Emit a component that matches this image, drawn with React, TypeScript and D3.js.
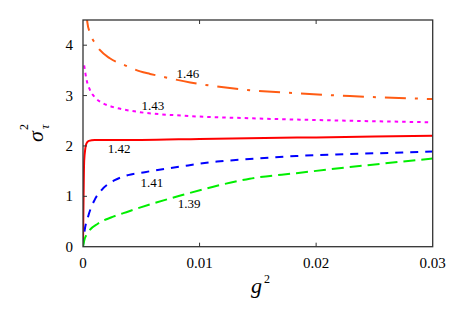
import React from "react";
import * as d3 from "d3";

// curve labels (the parameter value written next to each curve)
const curveLabels = ["1.46", "1.43", "1.42", "1.41", "1.39"];

// sigma_tau^2 vs g^2
const orangeG = [0.0003, 0.00037, 0.0006, 0.00103, 0.00146, 0.0023, 0.0036, 0.0049, 0.00575, 0.0069, 0.0092, 0.0115, 0.0137, 0.018, 0.0229, 0.03];
const orangeV = [4.7, 4.46, 4.24, 4.04, 3.9, 3.74, 3.6, 3.48, 3.43, 3.37, 3.26, 3.18, 3.12, 3.05, 2.99, 2.93];

const magentaG = [0.0001, 0.0002, 0.0003, 0.0006, 0.001, 0.0017, 0.0026, 0.0038, 0.0049, 0.0086, 0.0143, 0.0229, 0.03];
const magentaV = [3.6, 3.45, 3.32, 3.11, 2.97, 2.85, 2.77, 2.71, 2.67, 2.6, 2.55, 2.5, 2.47];

const redG = [0, 0.00005, 0.0001, 0.0002, 0.0003, 0.0005, 0.001, 0.005, 0.01, 0.02, 0.03];
const redV = [0, 1.0, 1.7, 1.95, 2.05, 2.1, 2.12, 2.12, 2.14, 2.17, 2.2];

const blueG = [0, 0.0001, 0.00043, 0.001, 0.00157, 0.00272, 0.00386, 0.0053, 0.0086, 0.0115, 0.0143, 0.0183, 0.0229, 0.0274, 0.03];
const blueV = [0, 0.25, 0.59, 0.93, 1.12, 1.32, 1.42, 1.48, 1.6, 1.69, 1.74, 1.8, 1.84, 1.87, 1.89];

const greenG = [0, 0.0001, 0.0004, 0.0013, 0.0024, 0.0039, 0.00575, 0.0086, 0.0115, 0.0143, 0.0183, 0.0229, 0.03];
const greenV = [0, 0.12, 0.27, 0.46, 0.58, 0.7, 0.84, 1.03, 1.21, 1.35, 1.46, 1.58, 1.75];

const xTicks = [0, 0.01, 0.02, 0.03];
const yTicks = [0, 1, 2, 3, 4];

const W = 450, H = 315;
const left = 83, right = 432.7, top = 20, bottom = 246.7;

const x = d3.scaleLinear().domain([0, 0.03]).range([left, right]);
const y = d3.scaleLinear().domain([0, 4.5]).range([bottom, top]);

const line = d3.line<[number, number]>()
  .x(d => x(d[0]))
  .y(d => y(d[1]))
  .curve(d3.curveMonotoneX);

const zip = (g: number[], v: number[]) => g.map((gi, i) => [gi, v[i]] as [number, number]);

const series = [
  { g: orangeG, v: orangeV, color: "#ff5c14", dash: "21,9,3,9" },
  { g: magentaG, v: magentaV, color: "#ff00ff", dash: "3.5,4" },
  { g: redG, v: redV, color: "#ff0000", dash: "" },
  { g: blueG, v: blueV, color: "#0000ff", dash: "8,7" },
  { g: greenG, v: greenV, color: "#00ee00", dash: "12,6" },
];

// label anchor points (data coords) for the curve labels
const labelAt: [number, number][] = [
  [0.009, 3.35], [0.006, 2.71], [0.0031, 1.86], [0.0059, 1.185], [0.0091, 0.77],
];

const font = "'Liberation Serif', 'Times New Roman', 'DejaVu Serif', serif";

export default function App() {
  return (
    <svg width={W} height={H} style={{ position: "absolute", left: 0, top: 0, background: "#fff", fontFamily: font }}>
      <defs>
        <clipPath id="plot">
          <rect x={left} y={top} width={right - left} height={bottom - top} />
        </clipPath>
      </defs>
      <g clipPath="url(#plot)">
        {series.map((s, i) => (
          <path key={i} d={line(zip(s.g, s.v)) || ""} fill="none" stroke={s.color}
            strokeWidth={2} strokeDasharray={s.dash || undefined} />
        ))}
      </g>
      {curveLabels.map((t, i) => (
        <text key={t} x={x(labelAt[i][0])} y={y(labelAt[i][1])} fontSize={13} textAnchor="middle">{t}</text>
      ))}
      <rect x={left} y={top} width={right - left} height={bottom - top} fill="none" stroke="#333" strokeWidth={1.3} />
      {xTicks.map(t => (
        <g key={t}>
          {t > 0 && t < 0.03 && (
            <>
              <line x1={x(t)} x2={x(t)} y1={bottom} y2={bottom - 4} stroke="#333" />
              <line x1={x(t)} x2={x(t)} y1={top} y2={top + 4} stroke="#333" />
            </>
          )}
          <text x={x(t)} y={268} fontSize={15} textAnchor="middle">{t === 0 ? "0" : d3.format(".2f")(t)}</text>
        </g>
      ))}
      {yTicks.map(t => (
        <g key={t}>
          {t > 0 && <line x1={left} x2={left + 4} y1={y(t)} y2={y(t)} stroke="#333" />}
          <text x={73} y={y(t) + 5} fontSize={15} textAnchor="end">{t}</text>
        </g>
      ))}
      <text x={251} y={293} fontSize={22} fontStyle="italic">g</text>
      <text x={264} y={283} fontSize={12}>2</text>
      <g transform="translate(43,142) rotate(-90)">
        <text x={0} y={0} fontSize={22} fontStyle="italic">σ</text>
        <text x={12} y={-15} fontSize={12}>2</text>
        <text x={13} y={6} fontSize={12} fontStyle="italic">τ</text>
      </g>
    </svg>
  );
}
